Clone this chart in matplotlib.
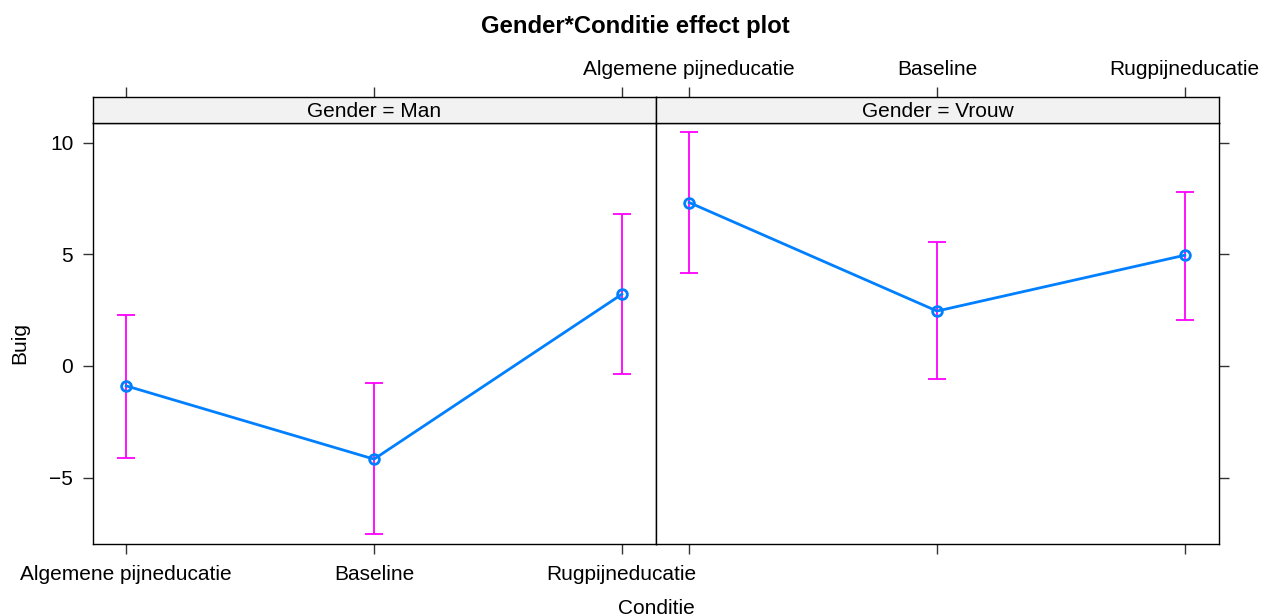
import matplotlib
matplotlib.use("Agg")
import matplotlib.pyplot as plt

plt.rcParams['font.family'] = ['Liberation Sans', 'DejaVu Sans']

categories = ["Algemene pijneducatie", "Baseline", "Rugpijneducatie"]
genders = ["Man", "Vrouw"]
fit = {"Man": [-0.89, -4.17, 3.21], "Vrouw": [7.32, 2.46, 4.96]}
lower = {"Man": [-4.10, -7.50, -0.36], "Vrouw": [4.15, -0.58, 2.05]}
upper = {"Man": [2.28, -0.76, 6.79], "Vrouw": [10.49, 5.54, 7.81]}
yticks = [-5, 0, 5, 10]

W, H = 1271, 616
fig = plt.figure(figsize=(W / 100, H / 100), dpi=100)

def fx(px):
    return px / W

def fy(py):
    return 1 - py / H

top_px, bot_px, strip_top = 123, 544, 97
fs = 15
line_col = "#0080ff"
err_col = "#ff00ff"
tick_len = 7.2
x = [1, 2, 3]

for i, g in enumerate(genders):
    x0, x1 = (93, 656) if i == 0 else (656, 1219)
    ax = fig.add_axes([fx(x0), fy(bot_px), fx(x1 - x0), (bot_px - top_px) / H])
    sax = fig.add_axes([fx(x0), fy(top_px), fx(x1 - x0), (top_px - strip_top) / H])

    lo = [f - l for f, l in zip(fit[g], lower[g])]
    hi = [u - f for f, u in zip(fit[g], upper[g])]
    ax.errorbar(x, fit[g], yerr=[lo, hi], fmt='none', ecolor=err_col,
                elinewidth=1.3, capsize=6.2, capthick=1.3, zorder=2)
    ax.plot(x, fit[g], color=line_col, lw=2.0, zorder=3)
    ax.plot(x, fit[g], 'o', mfc='none', mec=line_col, mew=2.0, ms=7, zorder=4)

    ax.set_xlim(0.866, 3.138)
    ax.set_ylim(-7.97, 10.88)
    for sp in ax.spines.values():
        sp.set_linewidth(1.0)
        sp.set_color("black")

    ax.set_xticks(x)
    ax.set_yticks(yticks)
    ax.set_yticklabels(["\u22125", "0", "5", "10"])
    ax.tick_params(axis='both', direction='out', length=tick_len, width=1.0,
                   color="#333333", labelsize=fs, labelcolor="black")
    ax.tick_params(axis='x', pad=8)
    ax.tick_params(axis='y', pad=7)
    if i == 0:
        ax.set_xticklabels(categories)
        ax.tick_params(axis='y', left=True, labelleft=True, right=False)
    else:
        ax.set_xticklabels([])
        ax.tick_params(axis='y', left=False, labelleft=False, right=True, labelright=False)

    # strip
    sax.set_xlim(0.866, 3.138)
    sax.set_ylim(0, 1)
    sax.set_facecolor("#f2f2f2")
    for sp in sax.spines.values():
        sp.set_linewidth(1.0)
        sp.set_color("black")
    sax.set_yticks([])
    sax.set_xticks(x)
    sax.tick_params(axis='x', bottom=False, labelbottom=False, top=True,
                    direction='out', length=tick_len, width=1.0, color="#333333",
                    labelsize=fs, pad=6)
    if i == 1:
        sax.tick_params(axis='x', labeltop=True)
        sax.set_xticklabels(categories)
    else:
        sax.tick_params(axis='x', labeltop=False)
    sax.text(0.5, 0.45, f"Gender = {g}", transform=sax.transAxes, ha='center',
             va='center', fontsize=fs)

fig.text(fx(635.5), fy(26), "Gender*Conditie effect plot", ha='center', va='center',
         fontsize=17.2, fontweight='bold')
fig.text(fx(656), fy(608), "Conditie", ha='center', va='center', fontsize=fs)
fig.text(fx(20), fy(343), "Buig", ha='center', va='center', fontsize=fs, rotation=90)

fig.savefig("out.png", dpi=100)
